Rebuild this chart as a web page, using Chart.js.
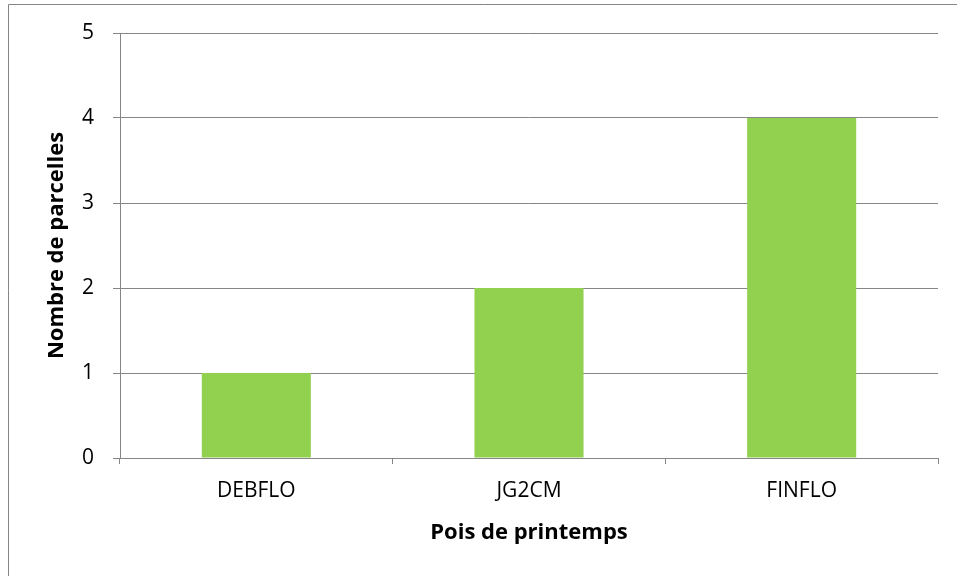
<!doctype html>
<html lang="fr">
<head>
  <meta charset="utf-8">
  <title>Pois de printemps</title>
  <script src="https://cdn.jsdelivr.net/npm/chart.js"></script>
  <style>
    body { margin: 0; background: #fff; }
  </style>
</head>
<body>
  <canvas id="bar-chart" width="957" height="576"></canvas>
<script>
var stades = ["DEBFLO", "JG2CM", "FINFLO"];
var parcelles = [1, 2, 4];

var gris = "#868686";

// cadre du graphique (coin haut gauche seulement visible)
var cadre = {
  id: 'cadre',
  beforeDraw: function(chart) {
    var ctx = chart.ctx;
    ctx.save();
    ctx.strokeStyle = gris;
    ctx.lineWidth = 1;
    ctx.beginPath();
    ctx.moveTo(8.5, 600);
    ctx.lineTo(8.5, 4.5);
    ctx.lineTo(1000, 4.5);
    ctx.stroke();
    ctx.restore();
  }
};

new Chart(document.getElementById("bar-chart"), {
  type: 'bar',
  data: {
    labels: stades,
    datasets: [{
      data: parcelles,
      backgroundColor: "#92D050",
      barPercentage: 0.4,
      categoryPercentage: 1
    }]
  },
  plugins: [cadre],
  options: {
    responsive: false,
    animation: false,
    layout: { padding: { top: 33, right: 19, left: 0, bottom: 0 } },
    plugins: {
      legend: { display: false },
      tooltip: { enabled: false }
    },
    scales: {
      x: {
        afterFit: function(scale) { scale.height = 118; },
        grid: { offset: true, drawOnChartArea: false, drawTicks: true, tickLength: 6, color: gris },
        border: { color: gris },
        ticks: { color: "#000", padding: 14, font: { family: "Open Sans", size: 21 } },
        title: {
          display: true,
          text: "Pois de printemps",
          color: "#000",
          font: { family: "Open Sans", size: 22, weight: "bold" },
          padding: { top: 0, bottom: 30 }
        }
      },
      y: {
        min: 0,
        max: 5,
        afterFit: function(scale) { scale.width = 120; },
        grid: { color: gris, drawTicks: true, tickLength: 7 },
        border: { color: gris },
        ticks: { stepSize: 1, color: "#000", padding: 19, font: { family: "Open Sans", size: 21 } },
        title: {
          display: true,
          text: "Nombre de parcelles",
          color: "#000",
          font: { family: "Open Sans", size: 22, weight: "bold" },
          padding: { top: 44, bottom: 0 }
        }
      }
    }
  }
});
</script>
</body>
</html>
